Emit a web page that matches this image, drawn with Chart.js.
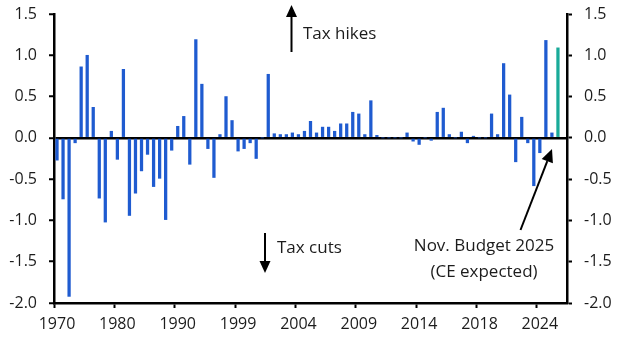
<!DOCTYPE html>
<html>
<head>
<meta charset="utf-8">
<script src="https://cdn.jsdelivr.net/npm/chart.js@4"></script>
<style>
  html, body { margin: 0; padding: 0; background: #fff; }
  #wrap { width: 630px; height: 355px; }
</style>
</head>
<body>
<div id="wrap"><canvas id="c" width="630" height="355"></canvas></div>
<script>
// Budget events (year of each fiscal event)
const categories = [
  '1970','1971','1972','1973','1974','1975','1976','1977','1978','1979',
  '1980','1981','1982','1983','1984','1985','1986','1987','1988','1989',
  '1990','1991','1992','1993','1993','1994','1995','1996','1997','1998',
  '1999','1999','2000','2000','2001','2001','2002','2002','2003','2003',
  '2004','2004','2005','2005','2006','2006','2007','2007','2008','2008',
  '2009','2009','2010','2010','2010','2011','2011','2012','2012','2013',
  '2014','2014','2015','2015','2015','2016','2016','2017','2017','2017',
  '2018','2018','2020','2021','2021','2022','2022','2022','2023','2023',
  '2024','2024','2025','2025','2026'
];
// Net tax change announced at each event (% of GDP)
const taxChange = [
  -0.27,-0.74,-1.92,-0.06, 0.86, 1.00, 0.37,-0.73,-1.02, 0.08,
  -0.26, 0.83,-0.94,-0.67,-0.40,-0.20,-0.59,-0.49,-0.99,-0.15,
   0.14, 0.26,-0.32, 1.19, 0.65,-0.13,-0.48, 0.04, 0.50, 0.21,
  -0.16,-0.13,-0.06,-0.25, 0.00, 0.77, 0.05, 0.04, 0.04, 0.06,
   0.04, 0.08, 0.20, 0.06, 0.13, 0.13, 0.08, 0.17, 0.17, 0.31,
   0.29, 0.04, 0.45, 0.03, 0.00, 0.00, 0.00, 0.00, 0.06,-0.04,
  -0.08, 0.00,-0.03, 0.31, 0.36, 0.04, 0.00, 0.07,-0.06, 0.02,
   0.00, 0.00, 0.29, 0.04, 0.90, 0.52,-0.29, 0.25,-0.06,-0.58,
  -0.18, 1.18, 0.06, 1.09, null
];
const expectedEvent = 83; // Nov. Budget 2025 (CE expected)
const xTickLabels = ['1970','1980','1990','1999','2004','2009','2014','2018','2024'];
const xTickEvery = 10;
const yTicks = [-2.0,-1.5,-1.0,-0.5,0.0,0.5,1.0,1.5];

const BLUE = '#1F5BD0';
const TEAL = '#19AA99';
const INK = '#1c1c1c';
const FONT = "'Open Sans', 'Noto Sans', sans-serif";

function arrow(ctx, x1, y1, x2, y2, headLen, headHalf) {
  const ang = Math.atan2(y2 - y1, x2 - x1);
  const bx = x2 - headLen * Math.cos(ang), by = y2 - headLen * Math.sin(ang);
  ctx.beginPath();
  ctx.moveTo(x1, y1); ctx.lineTo(bx, by); ctx.stroke();
  ctx.beginPath();
  ctx.moveTo(x2, y2);
  ctx.lineTo(bx + headHalf * Math.sin(ang), by - headHalf * Math.cos(ang));
  ctx.lineTo(bx - headHalf * Math.sin(ang), by + headHalf * Math.cos(ang));
  ctx.closePath(); ctx.fill();
}

const annotations = {
  id: 'annotations',
  afterDraw(chart) {
    const ctx = chart.ctx;
    ctx.save();
    ctx.strokeStyle = '#000'; ctx.fillStyle = '#000'; ctx.lineWidth = 2;
    arrow(ctx, 291.5, 52, 291.5, 5, 12, 5.5);
    arrow(ctx, 265, 233, 265, 273, 12, 5.5);
    arrow(ctx, 520.5, 230, 552, 149, 13, 6);
    ctx.fillStyle = INK;
    ctx.font = "17px " + FONT;
    ctx.textBaseline = 'middle';
    ctx.textAlign = 'left';
    ctx.fillText('Tax hikes', 303, 34);
    ctx.fillText('Tax cuts', 277, 248);
    ctx.textAlign = 'center';
    ctx.fillText('Nov. Budget 2025', 484, 246.5);
    ctx.fillText('(CE expected)', 484, 272);
    ctx.restore();
  }
};

const yCommon = {
  min: -2, max: 1.5,
  afterBuildTicks: s => { s.ticks = yTicks.map(v => ({ value: v })); },
  border: { display: true, color: '#000', width: 2.5 },
  ticks: {
    color: INK, font: { size: 16, family: FONT }, padding: 12,
    callback: v => v.toFixed(1)
  }
};

new Chart(document.getElementById('c'), {
  type: 'bar',
  data: {
    labels: categories,
    datasets: [{
      data: taxChange,
      backgroundColor: c => c.dataIndex === expectedEvent ? TEAL : BLUE,
      borderWidth: 0,
      barThickness: 2.6
    }]
  },
  options: {
    responsive: false,
    animation: false,
    events: [],
    layout: { padding: { top: 14, left: 0, right: 0, bottom: 0 } },
    plugins: { legend: { display: false }, tooltip: { enabled: false } },
    scales: {
      x: {
        type: 'category',
        offset: true,
        afterFit: s => { s.height = 52; s.paddingLeft = 0; s.paddingRight = 0; },
        border: { display: true, color: '#000', width: 2.5 },
        grid: {
          offset: true,
          drawOnChartArea: false,
          drawTicks: true,
          tickLength: 5,
          tickWidth: 2,
          tickColor: c => (c.index !== undefined && c.index % xTickEvery === 0 && c.index < categories.length - 1) ? '#000' : 'rgba(0,0,0,0)'
        },
        ticks: {
          autoSkip: false, maxRotation: 0, minRotation: 0,
          color: INK, font: { size: 16, family: FONT }, padding: 7,
          callback: (v, i) => i % xTickEvery === 0 ? xTickLabels[i / xTickEvery] : ''
        }
      },
      y: Object.assign({}, yCommon, {
        position: 'left',
        afterFit: s => { s.width = 54; s.paddingTop = 0; s.paddingBottom = 0; },
        grid: {
          drawOnChartArea: true, drawTicks: true, tickLength: 5, tickWidth: 2,
          tickColor: '#000',
          lineWidth: 2.5,
          color: c => (c.tick && c.tick.value === 0) ? '#000' : 'rgba(0,0,0,0)'
        }
      }),
      y2: Object.assign({}, yCommon, {
        position: 'right',
        afterFit: s => { s.width = 63; s.paddingTop = 0; s.paddingBottom = 0; },
        grid: { drawOnChartArea: false, drawTicks: true, tickLength: 5, tickWidth: 2, tickColor: '#000' }
      })
    }
  },
  plugins: [annotations]
});
</script>
</body>
</html>
